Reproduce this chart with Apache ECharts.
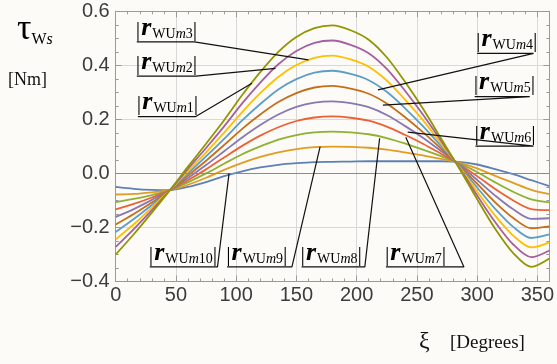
<!DOCTYPE html>
<html>
<head>
<meta charset="utf-8">
<script src="https://cdn.jsdelivr.net/npm/echarts@6/dist/echarts.min.js"></script>
<style>
  html, body { margin: 0; padding: 0; background: #fcfbf7; }
  #chart { width: 557px; height: 364px; }
</style>
</head>
<body>
<div id="chart"></div>
<script>
// xi in degrees
const xi = [0, 15, 30, 45, 60, 75, 90, 105, 120, 135, 150, 165, 180, 195, 210, 225, 240, 255, 270, 285, 300, 315, 330, 345, 360]

// tau_Ws [Nm], one array per |r_WUm| curve
const m10 = [-0.050, -0.057, -0.061, -0.062, -0.050, -0.032, -0.010, 0.008, 0.022, 0.032, 0.038, 0.042, 0.043, 0.044, 0.045, 0.045, 0.045, 0.045, 0.045, 0.043, 0.033, 0.016, -0.003, -0.025, -0.047]
const m9 = [-0.078, -0.076, -0.070, -0.062, -0.042, -0.016, 0.013, 0.039, 0.061, 0.078, 0.090, 0.097, 0.099, 0.098, 0.095, 0.088, 0.078, 0.067, 0.054, 0.040, 0.019, -0.009, -0.035, -0.061, -0.077]
const m8 = [-0.106, -0.094, -0.080, -0.062, -0.033, 0.000, 0.036, 0.071, 0.100, 0.125, 0.142, 0.152, 0.155, 0.152, 0.145, 0.131, 0.111, 0.088, 0.064, 0.038, 0.005, -0.033, -0.068, -0.096, -0.107]
const m7 = [-0.133, -0.113, -0.089, -0.062, -0.025, 0.015, 0.059, 0.102, 0.140, 0.171, 0.194, 0.207, 0.211, 0.206, 0.195, 0.173, 0.143, 0.110, 0.073, 0.035, -0.010, -0.058, -0.100, -0.132, -0.136]
const m6 = [-0.161, -0.132, -0.098, -0.062, -0.017, 0.031, 0.082, 0.133, 0.179, 0.218, 0.246, 0.262, 0.267, 0.260, 0.245, 0.216, 0.176, 0.132, 0.083, 0.033, -0.024, -0.082, -0.133, -0.168, -0.166]
const m5 = [-0.189, -0.150, -0.108, -0.062, -0.008, 0.047, 0.105, 0.165, 0.218, 0.264, 0.297, 0.318, 0.324, 0.314, 0.295, 0.259, 0.209, 0.153, 0.092, 0.030, -0.038, -0.107, -0.165, -0.203, -0.196]
const m4 = [-0.217, -0.169, -0.117, -0.062, 0.000, 0.063, 0.128, 0.196, 0.257, 0.311, 0.349, 0.373, 0.380, 0.368, 0.345, 0.302, 0.242, 0.175, 0.102, 0.028, -0.052, -0.131, -0.198, -0.239, -0.226]
const m3 = [-0.244, -0.188, -0.126, -0.062, 0.008, 0.078, 0.151, 0.227, 0.297, 0.357, 0.401, 0.428, 0.436, 0.422, 0.395, 0.344, 0.274, 0.197, 0.111, 0.025, -0.067, -0.156, -0.230, -0.274, -0.255]
const m2 = [-0.272, -0.206, -0.136, -0.062, 0.017, 0.094, 0.174, 0.259, 0.336, 0.404, 0.453, 0.483, 0.492, 0.476, 0.445, 0.387, 0.307, 0.218, 0.121, 0.023, -0.081, -0.180, -0.263, -0.310, -0.285]
const m1 = [-0.300, -0.225, -0.145, -0.062, 0.025, 0.110, 0.197, 0.290, 0.375, 0.450, 0.505, 0.538, 0.548, 0.530, 0.495, 0.430, 0.340, 0.240, 0.130, 0.020, -0.095, -0.205, -0.295, -0.346, -0.315]

const curveNames = ['m10', 'm9', 'm8', 'm7', 'm6', 'm5', 'm4', 'm3', 'm2', 'm1']
const curveValues = [m10, m9, m8, m7, m6, m5, m4, m3, m2, m1]
const colors = ['#5e81b5', '#e19c24', '#8fb032', '#eb6235', '#8778b3', '#c56e1a', '#5d9ec7', '#ffbf00', '#a5609d', '#929600']

// leader lines (data coords): underline start, underline end, pointer tip
const leaders = {
  m1: [[18.4, 0.210], [66.1, 0.210], [113.1, 0.334]],
  m2: [[17.5, 0.360], [66.7, 0.360], [132.6, 0.389]],
  m3: [[17.5, 0.487], [65.3, 0.487], [160.0, 0.420]],
  m4: [[300.0, 0.444], [346.9, 0.444], [217.7, 0.309]],
  m5: [[298.0, 0.284], [343.7, 0.284], [221.8, 0.253]],
  m6: [[298.6, 0.101], [346.9, 0.101], [242.4, 0.153]],
  m7: [[224.3, -0.346], [289.1, -0.346], [240.8, 0.134]],
  m8: [[154.3, -0.346], [206.8, -0.346], [219.1, 0.130]],
  m9: [[92.5, -0.346], [146.3, -0.346], [169.7, 0.099]],
  m10: [[28.3, -0.346], [84.5, -0.346], [94.1, 0.0]]
}

const chart = echarts.init(document.getElementById('chart'), null, { renderer: 'canvas' })

const grid = { left: 115.7, right: 4, top: 11.3, bottom: 82.5 }
const frameColor = '#9a9a9a'
const tickLabel = {
  color: '#3c3c3c',
  fontSize: 20,
  fontFamily: 'Liberation Sans, Arial, sans-serif'
}

const lineSeries = curveNames.map((n, i) => ({
  name: n,
  type: 'line',
  data: xi.map((x, j) => [x, curveValues[i][j]]),
  smooth: 0.3,
  showSymbol: false,
  silent: true,
  z: 3,
  lineStyle: { color: colors[i], width: 1.8 },
  markLine: i === 0 ? {
    silent: true,
    symbol: 'none',
    label: { show: false },
    lineStyle: { color: '#8a8a8a', width: 1, type: 'solid' },
    data: [{ yAxis: 0 }]
  } : undefined
}))

const leaderSeries = curveNames.map(n => ({
  type: 'line',
  data: leaders[n],
  showSymbol: false,
  silent: true,
  z: 5,
  clip: false,
  lineStyle: { color: '#111', width: 1.2 }
}))

const option = {
  backgroundColor: '#fcfbf7',
  animation: false,
  grid: grid,
  xAxis: [
    {
      type: 'value',
      min: 0,
      max: 360,
      interval: 50,
      axisLine: { show: true, onZero: false, lineStyle: { color: frameColor } },
      axisTick: { show: true, inside: true, length: 6, lineStyle: { color: frameColor } },
      minorTick: { show: true, splitNumber: 5, length: 3, lineStyle: { color: frameColor } },
      axisLabel: Object.assign({ margin: 4, showMaxLabel: false }, tickLabel),
      splitLine: { show: true, lineStyle: { color: '#d8d8d8', width: 1 } }
    },
    {
      type: 'value',
      position: 'top',
      min: 0,
      max: 360,
      interval: 50,
      axisLine: { show: true, onZero: false, lineStyle: { color: frameColor } },
      axisTick: { show: true, inside: true, length: 6, lineStyle: { color: frameColor } },
      minorTick: { show: true, splitNumber: 5, length: 3, lineStyle: { color: frameColor } },
      axisLabel: { show: false },
      splitLine: { show: false }
    }
  ],
  yAxis: [
    {
      type: 'value',
      min: -0.4,
      max: 0.6,
      interval: 0.2,
      axisLine: { show: true, onZero: false, lineStyle: { color: frameColor } },
      axisTick: { show: true, inside: true, length: 6, lineStyle: { color: frameColor } },
      minorTick: { show: true, splitNumber: 4, length: 3, lineStyle: { color: frameColor } },
      axisLabel: Object.assign({
        margin: 6,
        formatter: v => (v < 0 ? '\u2212' : '') + Math.abs(v).toFixed(1)
      }, tickLabel),
      splitLine: { show: true, lineStyle: { color: '#d8d8d8', width: 1 } }
    },
    {
      type: 'value',
      position: 'right',
      min: -0.4,
      max: 0.6,
      interval: 0.2,
      axisLine: { show: true, onZero: false, lineStyle: { color: frameColor } },
      axisTick: { show: true, inside: true, length: 6, lineStyle: { color: frameColor } },
      minorTick: { show: true, splitNumber: 4, length: 3, lineStyle: { color: frameColor } },
      axisLabel: { show: false },
      splitLine: { show: false }
    }
  ],
  series: lineSeries.concat(leaderSeries)
}

chart.setOption(option)

// rich text for |r_WUm..|
const serif = 'Liberation Serif, Times New Roman, serif'
const rich = {
  b: { fontFamily: serif, fontSize: 22, lineHeight: 25, verticalAlign: 'bottom', color: '#111' },
  r: { fontFamily: serif, fontSize: 26, fontWeight: 'bold', fontStyle: 'italic', lineHeight: 25, verticalAlign: 'bottom', color: '#111', padding: [0, 1, 0, 1] },
  s: { fontFamily: serif, fontSize: 14, lineHeight: 15, verticalAlign: 'bottom', color: '#111' },
  i: { fontFamily: serif, fontSize: 14, fontStyle: 'italic', lineHeight: 15, verticalAlign: 'bottom', color: '#111' }
}

const labelGraphics = curveNames.map(n => {
  const p = chart.convertToPixel({ xAxisIndex: 0, yAxisIndex: 0 }, leaders[n][0])
  return {
    type: 'text',
    x: p[0] - 1,
    y: p[1] - 1,
    z: 10,
    style: {
      text: '{b||}{r|r}{s|WU}{i|m}{s|' + n.slice(1) + '}{b||}',
      rich: rich,
      align: 'left',
      verticalAlign: 'bottom'
    }
  }
})

chart.setOption({
  graphic: labelGraphics.concat([
    {
      type: 'text',
      left: 17,
      top: 12,
      style: {
        text: '{t|\u03c4}{w|W}{si|s}',
        rich: {
          t: { fontFamily: serif, fontSize: 36, lineHeight: 34, verticalAlign: 'bottom', color: '#111' },
          w: { fontFamily: serif, fontSize: 16, lineHeight: 18, verticalAlign: 'bottom', color: '#111' },
          si: { fontFamily: serif, fontSize: 16, fontStyle: 'italic', lineHeight: 18, verticalAlign: 'bottom', color: '#111' }
        }
      }
    },
    {
      type: 'text',
      left: 8,
      top: 71,
      style: { text: '[Nm]', fontFamily: serif, fontSize: 18, fill: '#111' }
    },
    {
      type: 'text',
      left: 419,
      top: 330,
      style: { text: '\u03be', fontFamily: serif, fontSize: 24, fill: '#111' }
    },
    {
      type: 'text',
      left: 450,
      top: 334,
      style: { text: '[Degrees]', fontFamily: serif, fontSize: 19, fill: '#111' }
    }
  ])
})
</script>
</body>
</html>
